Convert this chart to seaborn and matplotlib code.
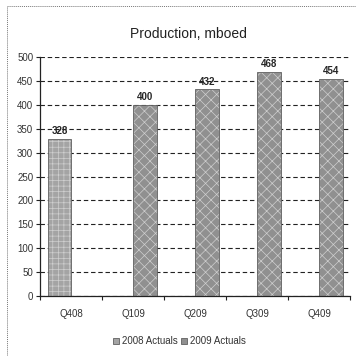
import matplotlib
matplotlib.use("Agg")
import matplotlib.pyplot as plt
from matplotlib.patches import Rectangle
from matplotlib.ticker import FixedLocator
import seaborn as sns
import pandas as pd

quarters = ["Q408", "Q109", "Q209", "Q309", "Q409"]
years = ["2008 Actuals", "2009 Actuals", "2009 Actuals", "2009 Actuals", "2009 Actuals"]
production = [328, 400, 432, 468, 454]
series = ["2008 Actuals", "2009 Actuals"]
yticks = [0, 50, 100, 150, 200, 250, 300, 350, 400, 450, 500]

df = pd.DataFrame({"quarter": quarters, "series": years, "mboed": production})

sns.set_style("white")
plt.rcParams["font.family"] = ["Liberation Sans", "DejaVu Sans"]
plt.rcParams["hatch.color"] = "#cfcfcf"
plt.rcParams["hatch.linewidth"] = 0.5

fig = plt.figure(figsize=(3.56, 3.56), dpi=100)
ax = fig.add_axes([0.113, 0.168, 0.870, 0.672])

palette = {"2008 Actuals": "#a4a4a4", "2009 Actuals": "#909090"}
sns.barplot(data=df, x="quarter", y="mboed", hue="series", order=quarters,
            hue_order=series, palette=palette, dodge=True, width=0.76,
            saturation=1, edgecolor="#606060", linewidth=0.6, ax=ax,
            legend=True)

hatches = {"2008 Actuals": "+++", "2009 Actuals": "xxx"}
for container, name in zip(ax.containers, series):
    for bar in container:
        bar.set_hatch(hatches[name])
        bar._hatch_color = matplotlib.colors.to_rgba("#cfcfcf")
    ax.bar_label(container, fmt="%d", fontsize=7, fontweight="bold",
                 padding=2, clip_on=False)

ax.set_ylim(0, 500)
ax.set_yticks(yticks)
ax.set_yticklabels([str(v) for v in yticks], fontsize=7, color="#333333")
ax.tick_params(axis="y", length=3, width=0.8, color="#222222", pad=2, direction="out", left=True)
ax.set_xticks(range(len(quarters)))
ax.set_xticklabels(quarters, fontsize=7, color="#333333")
ax.tick_params(axis="x", which="major", length=0, pad=9)
ax.xaxis.set_minor_locator(FixedLocator([i + 0.5 for i in range(-1, len(quarters))]))
ax.tick_params(axis="x", which="minor", length=3, width=0.8, color="#222222", bottom=True)
ax.set_xlim(-0.5, len(quarters) - 0.5)

ax.grid(axis="y", color="#222222", linestyle=(0, (4, 2.5)), linewidth=0.8)
ax.set_axisbelow(True)
for side in ["top", "right"]:
    ax.spines[side].set_visible(False)
for side in ["left", "bottom"]:
    ax.spines[side].set_color("#222222")
    ax.spines[side].set_linewidth(0.9)
ax.set_xlabel("")
ax.set_ylabel("")

ax.set_title("Production, mboed", fontsize=10, color="#222222", pad=14, x=0.48)

leg = ax.legend(loc="upper center", bbox_to_anchor=(0.45, -0.13), ncol=2, frameon=False,
                fontsize=7, handlelength=0.6, handleheight=0.6, handletextpad=0.3,
                columnspacing=0.4, labelcolor="#333333")

fig.patches.append(Rectangle((0.02, -0.02), 1.0, 1.002, transform=fig.transFigure,
                             fill=False, edgecolor="#777777", linestyle=(0, (1, 1)),
                             linewidth=0.7))

fig.savefig("out.png", dpi=100)
